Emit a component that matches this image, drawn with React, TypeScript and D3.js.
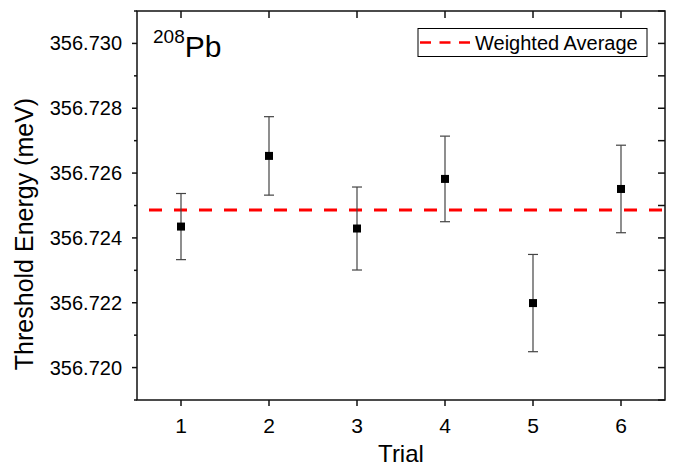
import React from "react";
import * as d3 from "d3";

const trials = [1, 2, 3, 4, 5, 6];
const energies = [356.72435, 356.72653, 356.72429, 356.72582, 356.72199, 356.72551];
const errors = [0.00102, 0.00121, 0.00128, 0.00132, 0.0015, 0.00135];
const weightedAverage = 356.72486;
const yTicks = [356.72, 356.722, 356.724, 356.726, 356.728, 356.73];
const yMinorTicks = [356.719, 356.721, 356.723, 356.725, 356.727, 356.729, 356.731];
const xTicks = [1, 2, 3, 4, 5, 6];

const W = 676;
const H = 466;
const M = { left: 137, right: 665, top: 11, bottom: 400 };
const FONT = "Liberation Sans, Arial, sans-serif";

export default function App() {
  const x = d3.scaleLinear().domain([0.5, 6.5]).range([M.left, M.right]);
  const y = d3.scaleLinear().domain([356.719, 356.731]).range([M.bottom, M.top]);
  const allY = [...yTicks, ...yMinorTicks];
  const fmt = d3.format(".3f");
  const cap = 5;
  const sq = 8;

  return (
    <svg width={W} height={H} style={{ position: "absolute", left: 0, top: 0, background: "#fff" }}>
      <rect x={0} y={0} width={W} height={H} fill="#fff" />
      {/* weighted average line */}
      <line
        x1={M.left}
        x2={M.right}
        y1={y(weightedAverage)}
        y2={y(weightedAverage)}
        stroke="#ff0000"
        strokeWidth={3}
        strokeDasharray="13 12"
        strokeDashoffset={-12}
      />
      {/* error bars */}
      {trials.map((t, i) => {
        const cx = x(t);
        const top = y(energies[i] + errors[i]);
        const bot = y(energies[i] - errors[i]);
        return (
          <g key={"e" + t} stroke="#444" strokeWidth={1.2}>
            <line x1={cx} x2={cx} y1={top} y2={bot} />
            <line x1={cx - cap} x2={cx + cap} y1={top} y2={top} />
            <line x1={cx - cap} x2={cx + cap} y1={bot} y2={bot} />
          </g>
        );
      })}
      {/* points */}
      {trials.map((t, i) => (
        <rect
          key={"p" + t}
          x={x(t) - sq / 2}
          y={y(energies[i]) - sq / 2}
          width={sq}
          height={sq}
          fill="#000"
        />
      ))}
      {/* frame */}
      <rect
        x={M.left}
        y={M.top}
        width={M.right - M.left}
        height={M.bottom - M.top}
        fill="none"
        stroke="#111"
        strokeWidth={1.5}
      />
      {/* left ticks outward */}
      {yTicks.map((v) => (
        <line key={"yl" + v} x1={M.left - 5} x2={M.left} y1={y(v)} y2={y(v)} stroke="#111" strokeWidth={1.5} />
      ))}
      {yMinorTicks.map((v) => (
        <line key={"ym" + v} x1={M.left - 3} x2={M.left} y1={y(v)} y2={y(v)} stroke="#111" strokeWidth={1.5} />
      ))}
      {/* right ticks inward */}
      {allY.map((v) => (
        <line key={"yr" + v} x1={M.right - 7} x2={M.right} y1={y(v)} y2={y(v)} stroke="#111" strokeWidth={1.5} />
      ))}
      {/* bottom ticks outward, top ticks inward */}
      {xTicks.map((v) => (
        <g key={"x" + v} stroke="#111" strokeWidth={1.5}>
          <line x1={x(v)} x2={x(v)} y1={M.bottom} y2={M.bottom + 6} />
          <line x1={x(v)} x2={x(v)} y1={M.top} y2={M.top + 7} />
        </g>
      ))}
      {/* tick labels */}
      {yTicks.map((v) => (
        <text key={"tl" + v} x={122} y={y(v) + 7} textAnchor="end" fontFamily={FONT} fontSize={20} fill="#000">
          {fmt(v)}
        </text>
      ))}
      {xTicks.map((v) => (
        <text key={"tx" + v} x={x(v)} y={433} textAnchor="middle" fontFamily={FONT} fontSize={21} fill="#000">
          {v}
        </text>
      ))}
      {/* axis titles */}
      <text x={(M.left + M.right) / 2} y={462} textAnchor="middle" fontFamily={FONT} fontSize={24} fill="#000">
        Trial
      </text>
      <text
        transform={`translate(33, ${234}) rotate(-90)`}
        textAnchor="middle"
        fontFamily={FONT}
        fontSize={25}
        fill="#000"
      >
        Threshold Energy (meV)
      </text>
      {/* isotope label */}
      <text x={153} y={57} fontFamily={FONT} fill="#000">
        <tspan fontSize={19} dy={-14}>208</tspan>
        <tspan fontSize={30} dy={14}>Pb</tspan>
      </text>
      {/* legend */}
      <rect x={418} y={28.5} width={229} height={28} fill="#fff" stroke="#000" strokeWidth={1} />
      <line x1={420} x2={470} y1={42.5} y2={42.5} stroke="#ff0000" strokeWidth={2.5} strokeDasharray="11 8.5" />
      <text x={475} y={50} fontFamily={FONT} fontSize={20} fill="#000">
        Weighted Average
      </text>
    </svg>
  );
}
